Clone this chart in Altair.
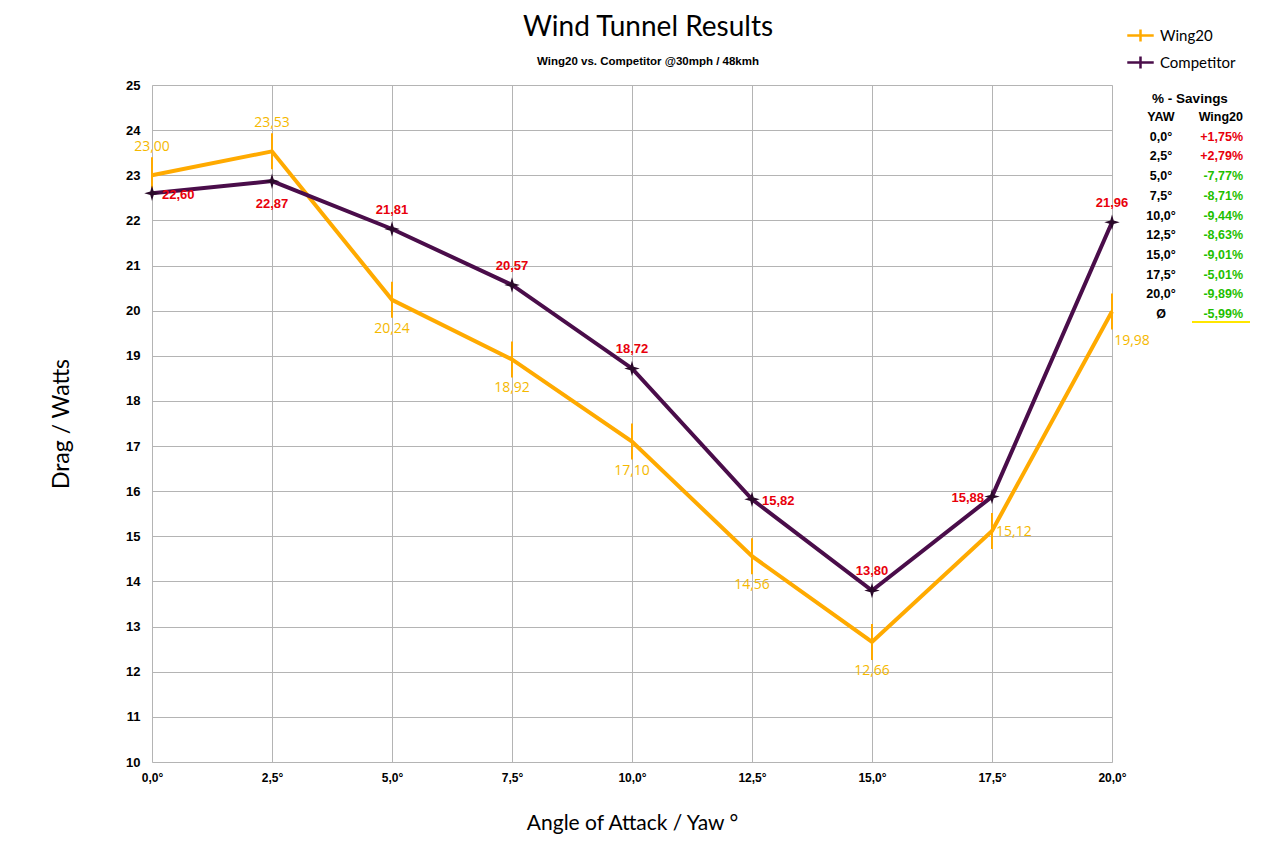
import altair as alt
import pandas as pd

# ---- data ----
angles = ["0,0°", "2,5°", "5,0°", "7,5°", "10,0°", "12,5°", "15,0°", "17,5°", "20,0°"]
wing20 = [23.00, 23.53, 20.24, 18.92, 17.10, 14.56, 12.66, 15.12, 19.98]
competitor = [22.60, 22.87, 21.81, 20.57, 18.72, 15.82, 13.80, 15.88, 21.96]
wing_label_pos = ["above", "above", "below", "below", "below", "below", "below", "right", "belowright"]
comp_label_pos = ["right", "below", "above", "above", "above", "right", "above", "left", "above"]

table_yaw = ["YAW", "0,0°", "2,5°", "5,0°", "7,5°", "10,0°", "12,5°", "15,0°", "17,5°", "20,0°", "Ø"]
table_savings = ["Wing20", "+1,75%", "+2,79%", "-7,77%", "-8,71%", "-9,44%", "-8,63%",
                 "-9,01%", "-5,01%", "-9,89%", "-5,99%"]

title_text = "Wind Tunnel Results"
subtitle_text = "Wing20 vs. Competitor @30mph / 48kmh"

ORANGE = "#FFAA00"
ORANGE_TXT = "#F5B800"
PURPLE = "#4A0D4A"
RED = "#E8000B"
GREEN = "#1FBF00"

rows = []
for a, w, c, wp, cp in zip(angles, wing20, competitor, wing_label_pos, comp_label_pos):
    rows.append({"angle": a, "series": "Wing20", "value": w, "pos": wp,
                 "label": f"{w:.2f}".replace(".", ",")})
    rows.append({"angle": a, "series": "Competitor", "value": c, "pos": cp,
                 "label": f"{c:.2f}".replace(".", ",")})
df = pd.DataFrame(rows)

tab = pd.DataFrame({
    "row": list(range(len(table_yaw))),
    "yaw": table_yaw,
    "sav": table_savings,
})
tab["col"] = ["#000000" if i == 0 else (RED if s.startswith("+") else GREEN)
              for i, s in enumerate(table_savings)]

W, H = 960, 677

x_enc = alt.X("angle:O", sort=angles,
              scale=alt.Scale(type="point", padding=0),
              axis=alt.Axis(title="Angle of Attack / Yaw °", labelAngle=0,
                            labelFont="Liberation Sans", labelFontWeight="bold",
                            labelFontSize=12, labelColor="#000", labelPadding=10,
                            titleFont="Lato", titleFontSize=21, titleFontWeight="normal",
                            titleColor="#000", titlePadding=29,
                            grid=True, gridColor="#b4b4b4", domain=False, ticks=False))

y_scale = alt.Scale(domain=[10, 25], nice=False, zero=False)
y_axis = alt.Axis(title="Drag / Watts", values=list(range(10, 26)),
                  labelFont="Liberation Sans", labelFontWeight="bold", labelFontSize=13,
                  labelColor="#000", labelPadding=12,
                  titleFont="Lato", titleFontSize=23, titleFontWeight="normal",
                  titleColor="#000", titlePadding=52,
                  grid=True, gridColor="#b4b4b4", domain=False, ticks=False)

color = alt.Color("series:N",
                  scale=alt.Scale(domain=["Wing20", "Competitor"], range=[ORANGE, PURPLE]),
                  legend=alt.Legend(title=None, orient="none", legendX=974, legendY=-64,
                                    symbolType="M-1,0H1M0,-0.45V0.45",
                                    symbolSize=700, symbolStrokeWidth=2.5,
                                    symbolFillColor="transparent",
                                    labelFont="Lato", labelFontSize=15, labelColor="#000",
                                    rowPadding=1, labelOffset=5))

base = alt.Chart(df)

lines = base.mark_line(strokeWidth=4).encode(
    x=x_enc,
    y=alt.Y("value:Q", scale=y_scale, axis=y_axis),
    color=color,
    order=alt.Order("series:N"),
)

wing_ticks = base.transform_filter(alt.datum.series == "Wing20").mark_point(
    shape="M0,-1V1", size=1300, strokeWidth=2, color=ORANGE, filled=False, opacity=1
).encode(x=alt.X("angle:O", sort=angles), y=alt.Y("value:Q", scale=y_scale, axis=None))

comp_pts = base.transform_filter(alt.datum.series == "Competitor").mark_point(
    shape="M0,-1L0.22,-0.22L1,0L0.22,0.22L0,1L-0.22,0.22L-1,0L-0.22,-0.22Z",
    size=240, filled=True, color="#2a0a2a", opacity=1
).encode(x=alt.X("angle:O", sort=angles), y=alt.Y("value:Q", scale=y_scale, axis=None))


def lbl(series, pos, color_, dx, dy, align, weight, font, size):
    return base.transform_filter(
        (alt.datum.series == series) & (alt.datum.pos == pos)
    ).mark_text(dx=dx, dy=dy, align=align, color=color_, fontWeight=weight,
                font=font, fontSize=size).encode(
        x=alt.X("angle:O", sort=angles),
        y=alt.Y("value:Q", scale=y_scale, axis=None),
        text="label:N")


wl = [
    lbl("Wing20", "above", ORANGE_TXT, 0, -28, "center", "normal", "Open Sans", 14),
    lbl("Wing20", "below", ORANGE_TXT, 0, 29, "center", "normal", "Open Sans", 14),
    lbl("Wing20", "right", ORANGE_TXT, 4, 1, "left", "normal", "Open Sans", 14),
    lbl("Wing20", "belowright", ORANGE_TXT, 20, 29, "center", "normal", "Open Sans", 14),
]
cl = [
    lbl("Competitor", "above", RED, 0, -19, "center", "bold", "Liberation Sans", 13),
    lbl("Competitor", "below", RED, 0, 23, "center", "bold", "Liberation Sans", 13),
    lbl("Competitor", "right", RED, 10, 2, "left", "bold", "Liberation Sans", 13),
    lbl("Competitor", "left", RED, -8, 1, "right", "bold", "Liberation Sans", 13),
]

# ---- savings table ----
tbase = alt.Chart(tab)
row_y = alt.Y("row:Q", scale=alt.Scale(domain=[0, 10], range=[32, 229]), axis=None)
t_yaw = tbase.mark_text(align="center", font="Liberation Sans", fontWeight="bold",
                        fontSize=12.5, color="#000").encode(
    x=alt.value(1009), y=row_y, text="yaw:N")
t_sav = tbase.mark_text(align="right", font="Liberation Sans", fontWeight="bold",
                        fontSize=12.5).encode(
    x=alt.value(1091), y=row_y, text="sav:N", color=alt.Color("col:N", scale=None))
one = tbase.transform_filter(alt.datum.row == 0)
t_title = one.mark_text(
    align="center", font="Liberation Sans", fontWeight="bold", fontSize=13.5, color="#000"
).encode(x=alt.value(1038), y=alt.value(14), text=alt.value("% - Savings"))
t_line = one.mark_rule(color="#FFE600", strokeWidth=2).encode(
    x=alt.value(1040), x2=alt.value(1098), y=alt.value(237))

# ---- chart title ----
c_title = one.mark_text(align="center", font="Lato", fontSize=28, color="#000").encode(
    x=alt.value(496), y=alt.value(-57), text=alt.value(title_text))
c_sub = one.mark_text(align="center", font="Liberation Sans", fontWeight="bold",
                      fontSize=11.5, color="#000").encode(
    x=alt.value(496), y=alt.value(-23), text=alt.value(subtitle_text))

chart = alt.layer(
    lines, wing_ticks, comp_pts, *wl, *cl, t_yaw, t_sav, t_title, t_line, c_title, c_sub
).resolve_scale(y="independent").properties(
    width=W, height=H,
    autosize=alt.AutoSizeParams(type="none"),
    padding={"left": 144, "top": 77, "right": 160, "bottom": 80},
).configure_view(stroke=None).configure(background="white")

chart.save("out.html", embed_options={"renderer": "svg", "actions": False})
